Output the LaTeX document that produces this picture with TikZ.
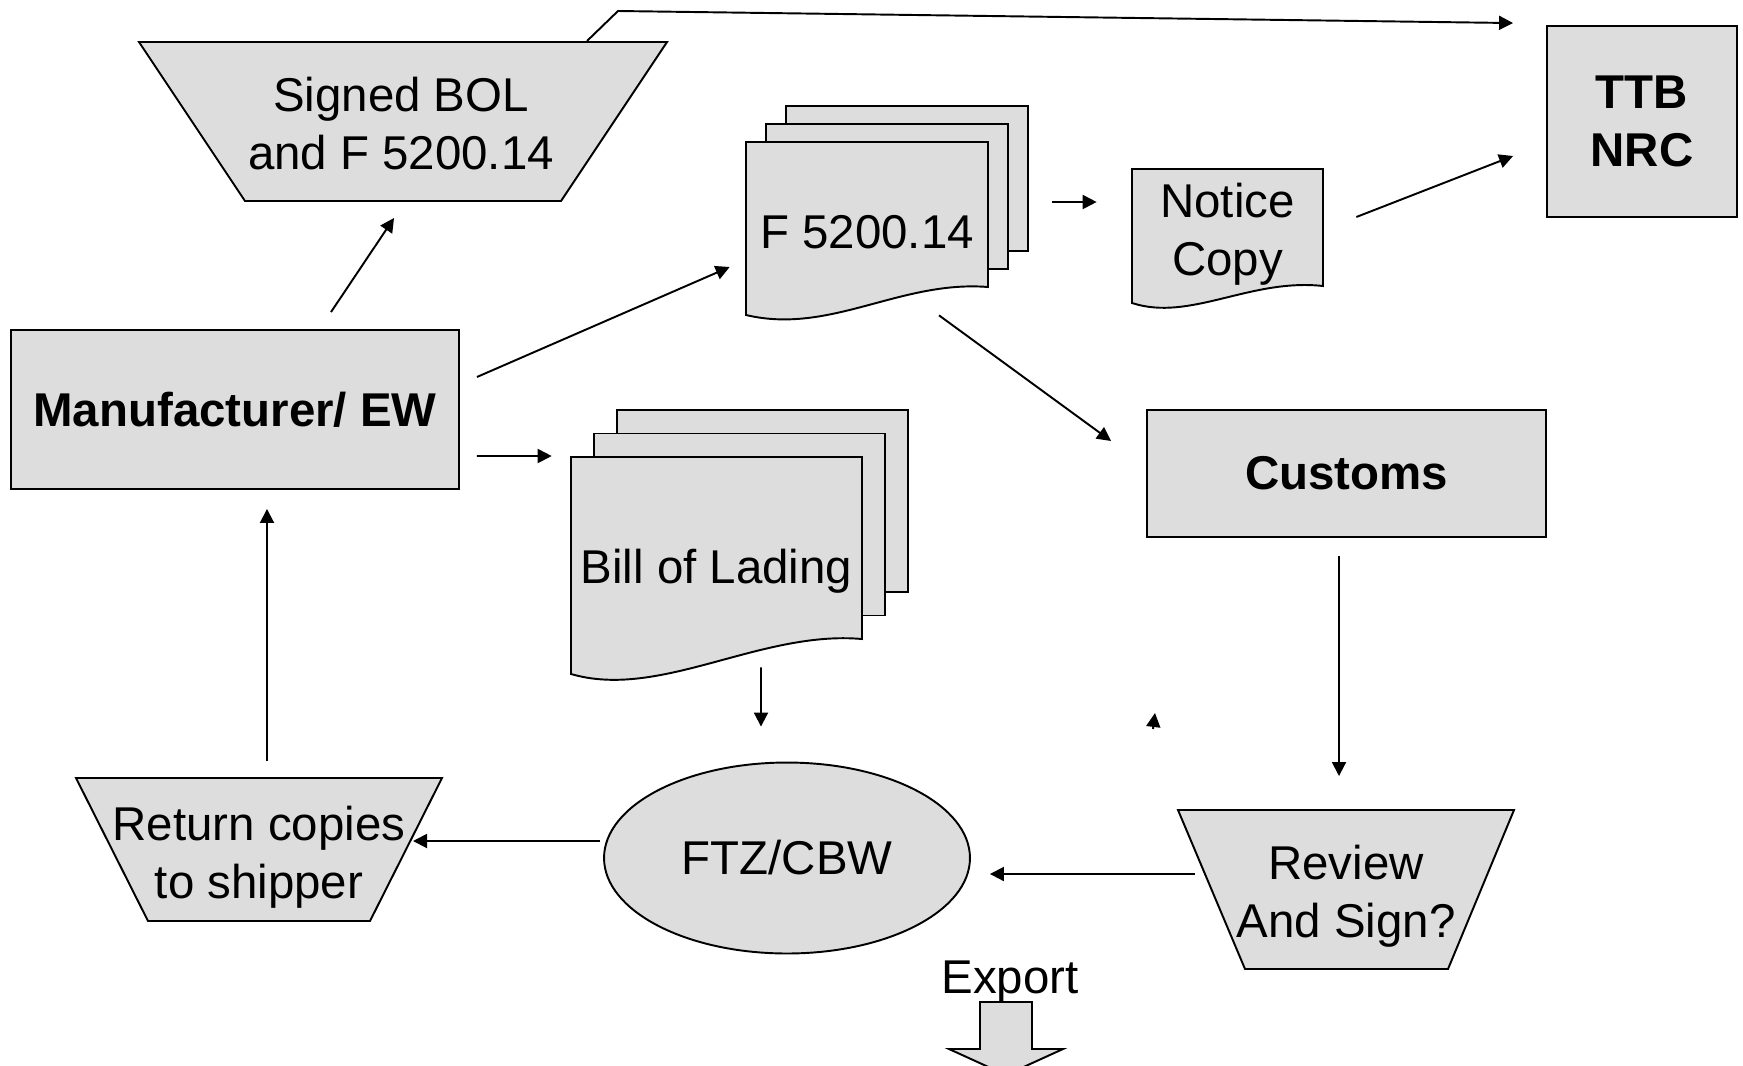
\documentclass[tikz,border=0pt]{standalone}
\usepackage{fontspec}
\setmainfont{Liberation Sans}
\usetikzlibrary{arrows.meta,shapes.geometric}
\definecolor{boxgray}{RGB}{221,221,221}

\begin{document}
\begin{tikzpicture}[x=0.02cm, y=-0.02cm, > = {Triangle[length=2.8mm,width=2.8mm]},
    every node/.style = {font=\fontsize{27}{33}\selectfont},
    box/.style = {draw, fill=boxgray, line width=1.1pt, inner sep=0pt, align=center},
    bbox/.style = {box, font=\fontsize{27}{33}\selectfont\bfseries},
    sheet/.style = {draw, fill=boxgray, line width=1.1pt},
    doc/.style = {inner sep=0pt, align=center},
    link/.style = {line width=1.1pt, ->}]

    \useasboundingbox (0,0) rectangle (1743,1065);

    % boxes
    \node[bbox, minimum width=8.96cm, minimum height=3.18cm] (mfr) at (235,409.5) {Manufacturer/ EW};
    \node[bbox, minimum width=3.8cm, minimum height=3.82cm] (ttb) at (1642,121.5) {TTB\\NRC};
    \node[bbox, minimum width=7.98cm, minimum height=2.54cm] (cust) at (1346.5,473.5) {Customs};
    \node[box, ellipse, minimum width=7.32cm, minimum height=3.82cm] (ftz) at (787,858) {FTZ/CBW};

    % funnels
    \draw[sheet] (139,42) -- (667,42) -- (561,201) -- (245,201) -- cycle;
    \node[doc] (sbol) at (401,124) {Signed BOL\\and F 5200.14};
    \draw[sheet] (76,778) -- (442,778) -- (370,921) -- (148,921) -- cycle;
    \node[doc] (ret) at (259,857) {Return copies\\to shipper};
    \draw[sheet] (1178,810) -- (1514,810) -- (1448,969) -- (1245,969) -- cycle;
    \node[doc] (rev) at (1346,896) {Review\\And Sign?};

    % documents
    \foreach \k in {2,1}
        \draw[sheet] (746+20*\k,142-18*\k) rectangle (988+20*\k,287-18*\k);
    \draw[sheet] (746,142) -- (988,142) -- (988,287) .. controls (900,280) and (830,335) .. (746,315) -- cycle;
    \node[doc, minimum width=4.84cm, minimum height=3.46cm] (f5200) at (867,232) {F 5200.14};

    \foreach \k in {2,1}
        \draw[sheet] (571+23*\k,457-23.5*\k) rectangle (862+23*\k,639-23.5*\k);
    \draw[sheet] (571,457) -- (862,457) -- (862,639) .. controls (760,630) and (660,700) .. (571,674) -- cycle;
    \node[doc, minimum width=5.82cm, minimum height=4.34cm] (bol) at (716.5,571.5) {Bill of Lading};

    \draw[sheet] (1132,169) -- (1323,169) -- (1323,286) .. controls (1250,278) and (1190,322) .. (1132,303) -- cycle;
    \node[doc, minimum width=3.82cm, minimum height=2.68cm] (notice) at (1227.5,234) {Notice\\Copy};

    % export
    \node (export) at (1010,982) {Export};
    \draw[sheet] (980,1002) -- (1032,1002) -- (1032,1049) -- (1063,1049) -- (1006,1075) -- (949,1049) -- (980,1049) -- cycle;

    % arrows
    \draw[link] ([shift={(96,-17)}]mfr.north) -- ([shift={(-7,94)}]sbol.center);
    \draw[link] ([shift={(17,-32.5)}]mfr.east) -- ([shift={(-16,35)}]f5200.west);
    \draw[link] ([shift={(17,46.5)}]mfr.east) -- ([shift={(-19,-115.5)}]bol.west);
    \draw[link] ([shift={(64,-30)}]f5200.east) -- ([shift={(-35,-32)}]notice.west);
    \draw[link] ([shift={(33,-17)}]notice.east) -- ([shift={(-33,34.5)}]ttb.west);
    \draw[link] ([shift={(72,-3.5)}]f5200.south) -- ([shift={(-35,-32.5)}]cust.west);
    \draw[link] ([shift={(-7.5,18)}]cust.south) -- ([shift={(-7,-120)}]rev.center);
    \draw[link] ([shift={(-151,-22)}]rev.center) -- ([shift={(19,16)}]ftz.east);
    \draw[link] ([shift={(44.5,-13)}]bol.south) -- ([shift={(-26,-35)}]ftz.north);
    \draw[link] ([shift={(-3,-17)}]ftz.west) -- ([shift={(154,-16)}]ret.center);
    \draw[link] ([shift={(8,-96)}]ret.center) -- ([shift={(32,19)}]mfr.south);
    \coordinate (bend) at (618,11);
    \draw[link] ([shift={(186,-83)}]sbol.center) -- (bend) -- ([shift={(-33,-2)}]ttb.north west);
    \coordinate (stray) at (1153,729);
    \draw[link] (stray) -- ++(2,-16);

\end{tikzpicture}
\end{document}
